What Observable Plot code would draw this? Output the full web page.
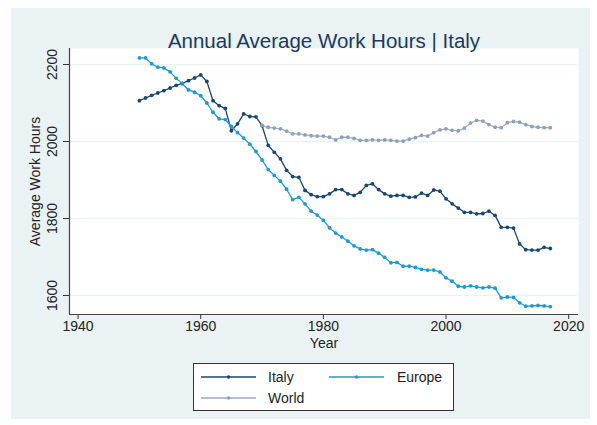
<!DOCTYPE html>
<html>
<head>
<meta charset="utf-8">
<script src="https://cdn.jsdelivr.net/npm/d3@7"></script>
<script src="https://cdn.jsdelivr.net/npm/@observablehq/plot@0.6"></script>
<style>
  body { margin:0; background:#fff; font-family:"Liberation Sans", Arial, sans-serif; }
  #wrap { position:relative; width:597px; height:425px; background:#fff; overflow:hidden; }
  #panel { position:absolute; left:11px; top:8px; width:579px; height:411px; background:#eaf2f3; }
  #chart { position:absolute; left:0; top:0; }
  #legend { position:absolute; left:193px; top:363px; width:259px; height:46px; border:1px solid #333; background:#fff; }
  #legend svg { position:absolute; left:0; top:0; }
  .lab { position:absolute; font-size:14px; color:#222; line-height:14px; }
</style>
</head>
<body>
<div id="wrap">
  <div id="panel"></div>
  <div id="chart"></div>
  <div id="legend"></div>
</div>
<script>
const years = [1950,1951,1952,1953,1954,1955,1956,1957,1958,1959,1960,1961,1962,1963,1964,1965,1966,1967,1968,1969,
  1970,1971,1972,1973,1974,1975,1976,1977,1978,1979,1980,1981,1982,1983,1984,1985,1986,1987,1988,1989,
  1990,1991,1992,1993,1994,1995,1996,1997,1998,1999,2000,2001,2002,2003,2004,2005,2006,2007,2008,2009,
  2010,2011,2012,2013,2014,2015,2016,2017];
const italy = [2106,2113,2120,2126,2132,2139,2146,2151,2158,2165,2173,2156,2106,2093,2086,2028,2046,2072,2065,2064,
  2041,1990,1972,1955,1925,1909,1907,1873,1862,1857,1857,1864,1875,1875,1864,1860,1868,1886,1890,1875,
  1864,1858,1860,1860,1855,1856,1866,1860,1874,1871,1851,1838,1827,1816,1816,1812,1813,1819,1808,1777,
  1777,1775,1734,1719,1718,1718,1725,1722];
const europe = [2217,2217,2202,2193,2191,2181,2164,2150,2134,2128,2119,2100,2076,2059,2057,2039,2023,2009,1993,1974,
  1952,1927,1912,1897,1876,1849,1855,1838,1819,1809,1795,1776,1762,1752,1741,1729,1721,1718,1719,1710,
  1699,1685,1686,1676,1676,1673,1668,1666,1666,1661,1646,1637,1624,1622,1625,1622,1620,1622,1619,1594,
  1596,1595,1581,1572,1573,1574,1573,1571];
const worldYears = [1970,1971,1972,1973,1974,1975,1976,1977,1978,1979,1980,1981,1982,1983,1984,1985,1986,1987,1988,1989,
  1990,1991,1992,1993,1994,1995,1996,1997,1998,1999,2000,2001,2002,2003,2004,2005,2006,2007,2008,2009,
  2010,2011,2012,2013,2014,2015,2016,2017];
const world = [2042,2037,2035,2033,2027,2020,2020,2017,2015,2014,2014,2011,2004,2011,2011,2008,2003,2003,2004,2003,
  2004,2003,2001,2001,2006,2010,2016,2014,2023,2030,2033,2029,2028,2035,2048,2055,2053,2044,2037,2036,
  2049,2052,2050,2044,2039,2037,2036,2036];
const xTicks = [1940,1960,1980,2000,2020];
const yTicks = [1600,1800,2000,2200];
const seriesNames = ["Italy","Europe","World"];
const colors = {Italy:"#1a476f", Europe:"#1f9ad0", World:"#8e9fb6"};
const lineColors = {Italy:"#1a476f", Europe:"#1f9ad0", World:"#9fb0c4"};

const rows = [
  ...years.map((y,i)=>({series:"Italy", year:y, hours:italy[i]})),
  ...years.map((y,i)=>({series:"Europe", year:y, hours:europe[i]})),
  ...worldYears.map((y,i)=>({series:"World", year:y, hours:world[i]}))
];

const xDomain = [1938.6, 2021.6];
const yDomain = [1550.6, 2241.6];
const font = "Liberation Sans, Arial, sans-serif";

const marks = [
  Plot.frame({fill:"white", stroke:null}),
  Plot.gridY(yTicks, {stroke:"#eaf2f3", strokeOpacity:1, strokeWidth:1.5}),
  Plot.axisX(xTicks, {tickSize:5, tickPadding:2, tickFormat:d=>String(d), fontSize:14, stroke:"#333", fill:"#222", label:null}),
  Plot.axisY(yTicks, {tickSize:6, tickFormat:()=>"", stroke:"#333", label:null}),
  Plot.text(yTicks, {y:d=>d, text:d=>String(d), frameAnchor:"left", textAnchor:"middle", dx:-17, rotate:-90, fontSize:14, fill:"#222"}),
  Plot.text(["Average Work Hours"], {frameAnchor:"left", textAnchor:"middle", dx:-34, rotate:-90, fontSize:14, fill:"#222"}),
  Plot.text(["Year"], {frameAnchor:"bottom", dy:33, fontSize:14, fill:"#222"}),
  Plot.text(["Annual Average Work Hours | Italy"], {frameAnchor:"top", dy:-15.5, fontSize:20.5, fill:"#1a3a5e"}),
  Plot.ruleX([xDomain[0]], {stroke:"#444", strokeWidth:1.2}),
  Plot.ruleY([yDomain[0]], {stroke:"#444", strokeWidth:1.2})
];
for (const s of seriesNames) {
  const d = rows.filter(r=>r.series===s);
  marks.push(Plot.line(d, {x:"year", y:"hours", stroke:lineColors[s], strokeWidth:1.3}));
  marks.push(Plot.dot(d, {x:"year", y:"hours", r:1.9, fill:colors[s], stroke:null}));
}

const chart = Plot.plot({
  width:597, height:425,
  marginLeft:69, marginRight:19, marginTop:48, marginBottom:111,
  style:{background:"transparent", fontFamily:font, fontSize:"14px", overflow:"visible"},
  x:{domain:xDomain},
  y:{domain:yDomain},
  marks
});
document.getElementById("chart").appendChild(chart);

// legend
const leg = document.getElementById("legend");
const legItems = [
  {name:"Italy", x:7, y:13, tx:74},
  {name:"Europe", x:135, y:13, tx:203},
  {name:"World", x:7, y:34, tx:74}
];
const ns = "http://www.w3.org/2000/svg";
const svg = document.createElementNS(ns, "svg");
svg.setAttribute("width", 259); svg.setAttribute("height", 46);
for (const it of legItems) {
  const ln = document.createElementNS(ns, "line");
  ln.setAttribute("x1", it.x); ln.setAttribute("x2", it.x+55);
  ln.setAttribute("y1", it.y); ln.setAttribute("y2", it.y);
  ln.setAttribute("stroke", it.name==="World" ? "#b4c0cf" : lineColors[it.name]);
  ln.setAttribute("stroke-width", it.name==="World" ? 2 : 1.3);
  svg.appendChild(ln);
  const c = document.createElementNS(ns, "circle");
  c.setAttribute("cx", it.x+27.5); c.setAttribute("cy", it.y); c.setAttribute("r", 1.7);
  c.setAttribute("fill", colors[it.name]);
  svg.appendChild(c);
  const t = document.createElement("div");
  t.className = "lab"; t.textContent = it.name;
  t.style.left = it.tx + "px"; t.style.top = (it.y - 7) + "px";
  leg.appendChild(t);
}
leg.appendChild(svg);
</script>
</body>
</html>
